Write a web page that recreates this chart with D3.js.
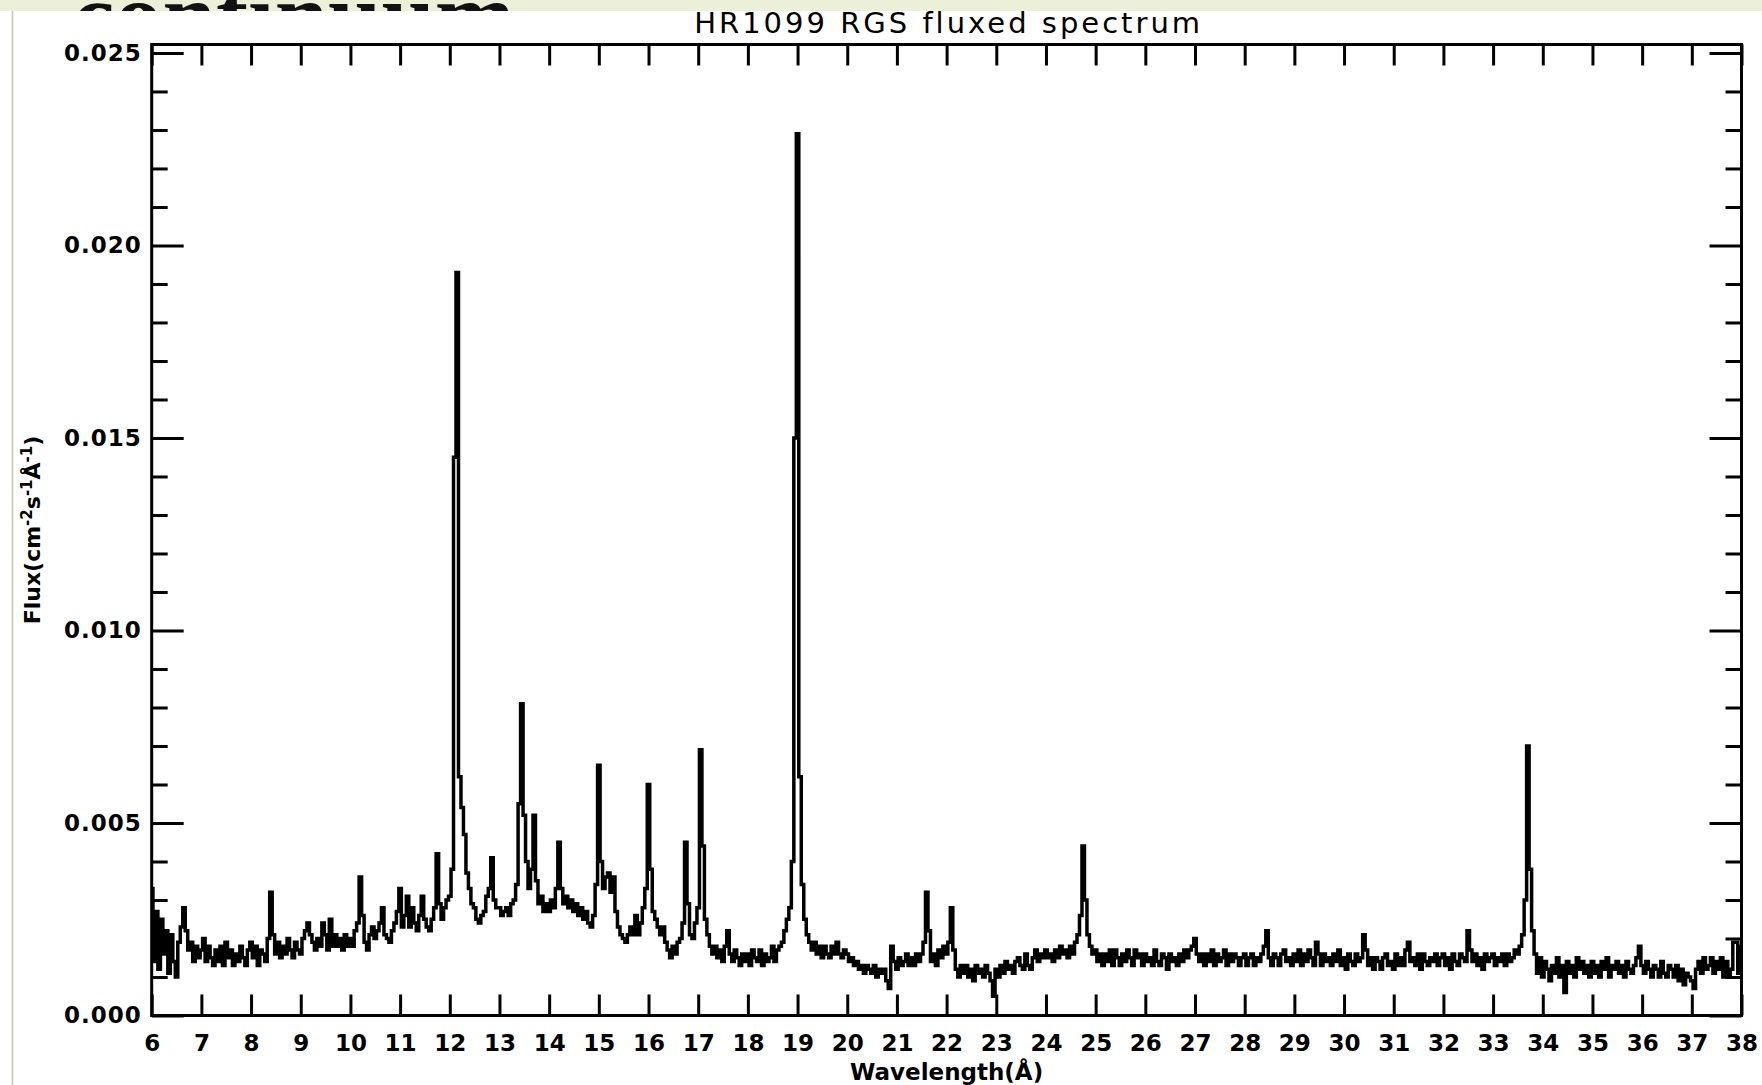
<!DOCTYPE html>
<html>
<head>
<meta charset="utf-8">
<script src="https://cdn.jsdelivr.net/npm/d3@7"></script>
<style>
html, body { margin: 0; padding: 0; background: #fff; }
svg { display: block; }
</style>
</head>
<body>
<svg id="chart" width="1762" height="1085"></svg>
<script>
// HR1099 RGS fluxed spectrum, binned on a regular wavelength grid.
const lambdaStart = 6.0;   // Å, centre of first bin
const lambdaStep = 0.05;   // Å per bin
const fluxUnit = 1e-4;     // stored flux values are in units of 1e-4 cm^-2 s^-1 Å^-1

// one row per Ångström (20 bins each), last entry is the 38.00 Å bin
const fluxValues = [
  33,14,27,12,25,16,22,11,21,14,10,19,23,28,22,17,19,14,18,15,   // 6
  17,20,14,18,15,13,17,14,18,13,19,15,17,13,16,14,18,15,13,17,   // 7
  19,15,18,13,17,16,14,20,32,21,16,19,15,18,16,20,17,15,19,17,   // 8
  16,20,22,24,21,19,17,20,18,24,21,17,25,18,21,18,20,17,21,18,   // 9
  20,18,22,24,36,26,19,17,21,23,20,22,24,28,21,20,19,22,24,27,   // 10
  33,23,26,31,23,28,24,22,26,31,25,23,22,25,28,42,29,25,28,30,   // 11
  31,38,145,193,62,54,47,37,33,29,28,25,24,26,27,31,33,41,30,28, // 12
  28,26,27,28,26,29,30,34,55,81,52,40,33,38,52,35,29,31,27,29,   // 13
  27,30,28,33,45,33,29,31,28,30,27,29,26,28,25,27,24,23,26,34,   // 14
  65,40,33,36,37,32,36,27,23,21,20,19,21,23,21,26,21,24,28,33,   // 15
  60,38,27,25,23,21,23,19,17,15,18,16,19,20,24,45,29,21,20,24,   // 16
  28,69,44,25,21,18,16,18,15,17,14,18,22,16,14,17,15,13,16,14,   // 17
  16,13,17,15,14,17,13,16,14,15,18,14,17,18,19,22,25,28,40,150,  // 18
  229,62,34,25,21,19,17,19,16,18,15,18,16,15,18,16,19,16,15,17,  // 19
  16,14,15,13,14,12,13,11,13,12,11,13,10,12,11,12,9,7,18,14,     // 20
  12,15,13,14,16,13,15,13,16,14,16,19,32,22,14,16,13,17,15,18,   // 21
  16,19,28,17,12,10,13,11,13,10,12,9,13,11,12,10,13,11,9,5,      // 22
  12,10,13,11,14,12,13,11,14,15,13,12,16,13,12,15,17,14,16,15,   // 23
  17,15,16,14,17,15,18,16,17,15,18,16,19,21,26,44,30,21,18,16,   // 24
  17,14,16,13,16,14,17,13,17,15,13,16,14,17,15,13,17,15,16,13,   // 25
  16,14,15,13,17,14,13,16,15,12,16,14,15,13,16,14,17,15,17,18,   // 26
  20,16,14,16,13,16,14,17,13,16,14,15,17,13,16,14,16,15,13,15,   // 27
  16,13,15,16,13,15,14,16,18,22,15,13,16,15,13,16,17,14,15,13,   // 28
  16,14,17,13,16,14,17,15,13,19,16,13,16,14,15,13,16,14,17,13,   // 29
  15,12,16,14,13,16,14,15,21,17,13,15,12,15,14,12,15,16,13,14,   // 30
  12,16,13,15,13,17,19,14,15,13,16,12,16,14,13,15,14,16,13,15,   // 31
  16,13,15,12,16,14,13,16,15,14,22,17,14,16,13,15,12,16,14,15,   // 32
  16,13,15,14,16,13,16,14,15,17,16,18,21,30,70,38,22,16,11,15,   // 33
  10,14,12,9,13,11,15,10,13,6,14,11,13,10,15,12,14,11,13,10,     // 34
  14,11,13,10,14,12,15,10,13,12,14,11,13,10,14,12,11,13,15,18,   // 35
  13,11,14,12,10,13,12,10,14,11,10,13,12,10,13,9,12,8,11,10,     // 36
  9,7,12,14,11,15,12,13,15,11,14,12,15,10,14,10,12,19,19,11,     // 37
  18                                                              // 38
];

const xTicks = [6,7,8,9,10,11,12,13,14,15,16,17,18,19,20,21,22,23,24,25,26,27,28,29,30,31,32,33,34,35,36,37,38];
const yTicks = [0, 0.005, 0.010, 0.015, 0.020, 0.025];
const yMinorTicks = [0.001,0.002,0.003,0.004,0.006,0.007,0.008,0.009,0.011,0.012,0.013,0.014,
                     0.016,0.017,0.018,0.019,0.021,0.022,0.023,0.024];
const titleText = "HR1099 RGS fluxed spectrum";
const xTitle = "Wavelength(Å)";

const W = 1762, H = 1085;
const frame = { left: 151.7, right: 1741.5, top: 44.5, bottom: 1015.5 };
const tickFont = "DejaVu Sans, Verdana, sans-serif";

const svg = d3.select("#chart");

// slide header strip with the heading cut off by the figure panel
svg.append("rect").attr("x", 0).attr("y", 0).attr("width", W).attr("height", H).attr("fill", "#fff");
svg.append("rect").attr("x", 0).attr("y", 0).attr("width", W).attr("height", 11).attr("fill", "#edf0d8");
svg.append("clipPath").attr("id", "stripClip")
  .append("rect").attr("x", 0).attr("y", 0).attr("width", W).attr("height", 11);
svg.append("text")
  .attr("clip-path", "url(#stripClip)")
  .attr("x", 72).attr("y", 48)
  .attr("font-family", "Liberation Serif, serif")
  .attr("font-weight", "bold")
  .attr("font-size", 96)
  .attr("fill", "#111")
  .text("continuum");
svg.append("line")
  .attr("x1", 12.5).attr("x2", 12.5).attr("y1", 11).attr("y2", H)
  .attr("stroke", "#c4c4b2").attr("stroke-width", 1.5);

// scales
const x = d3.scaleLinear().domain([6, 38]).range([frame.left, frame.right]);
const y = d3.scaleLinear().domain([0, 0.02522]).range([frame.bottom, frame.top]);

function styleAxis(g) {
  g.select(".domain").remove();
  g.selectAll(".tick line").attr("stroke", "#000").attr("stroke-width", 3);
  g.selectAll(".tick text")
    .attr("fill", "#000")
    .attr("font-family", tickFont)
    .attr("font-weight", "bold")
    .attr("font-size", 23);
}

// bottom axis with labels, ticks pointing into the plot
svg.append("g")
  .attr("transform", `translate(0,${frame.bottom})`)
  .call(d3.axisBottom(x).tickValues(xTicks).tickFormat(d3.format("d"))
        .tickSizeInner(-21).tickSizeOuter(0).tickPadding(19))
  .call(styleAxis);

// top axis, ticks only
svg.append("g")
  .attr("transform", `translate(0,${frame.top})`)
  .call(d3.axisTop(x).tickValues(xTicks).tickFormat("")
        .tickSizeInner(-21).tickSizeOuter(0))
  .call(styleAxis);

// left axis: labelled major ticks and minor ticks
svg.append("g")
  .attr("transform", `translate(${frame.left},0)`)
  .call(d3.axisLeft(y).tickValues(yTicks).tickFormat(d3.format(".3f"))
        .tickSizeInner(-32).tickSizeOuter(0).tickPadding(10))
  .call(styleAxis)
  .call(g => g.selectAll(".tick text").attr("letter-spacing", 1));
svg.append("g")
  .attr("transform", `translate(${frame.left},0)`)
  .call(d3.axisLeft(y).tickValues(yMinorTicks).tickFormat("")
        .tickSizeInner(-16).tickSizeOuter(0))
  .call(styleAxis);

// right axis mirrors the left one without labels
svg.append("g")
  .attr("transform", `translate(${frame.right},0)`)
  .call(d3.axisRight(y).tickValues(yTicks).tickFormat("")
        .tickSizeInner(-32).tickSizeOuter(0))
  .call(styleAxis);
svg.append("g")
  .attr("transform", `translate(${frame.right},0)`)
  .call(d3.axisRight(y).tickValues(yMinorTicks).tickFormat("")
        .tickSizeInner(-16).tickSizeOuter(0))
  .call(styleAxis);

// spectrum drawn as a histogram
const spectrum = fluxValues.map((v, i) => ({ lambda: lambdaStart + i * lambdaStep, flux: v * fluxUnit }));
svg.append("clipPath").attr("id", "plotClip")
  .append("rect")
  .attr("x", frame.left).attr("y", frame.top)
  .attr("width", frame.right - frame.left).attr("height", frame.bottom - frame.top);
svg.append("path")
  .datum(spectrum)
  .attr("clip-path", "url(#plotClip)")
  .attr("fill", "none")
  .attr("stroke", "#000")
  .attr("stroke-width", 3.5)
  .attr("stroke-linejoin", "miter")
  .attr("d", d3.line().x(d => x(d.lambda)).y(d => y(d.flux)).curve(d3.curveStep));

// plot frame
svg.append("rect")
  .attr("x", frame.left).attr("y", frame.top)
  .attr("width", frame.right - frame.left).attr("height", frame.bottom - frame.top)
  .attr("fill", "none").attr("stroke", "#000").attr("stroke-width", 3);

// title
svg.append("text")
  .attr("x", (frame.left + frame.right) / 2 + 2).attr("y", 33)
  .attr("text-anchor", "middle")
  .attr("font-family", tickFont)
  .attr("font-size", 29)
  .attr("letter-spacing", 3)
  .attr("fill", "#000")
  .text(titleText);

// x axis title
svg.append("text")
  .attr("x", (frame.left + frame.right) / 2).attr("y", 1080)
  .attr("text-anchor", "middle")
  .attr("font-family", tickFont)
  .attr("font-weight", "bold")
  .attr("font-size", 23)
  .attr("fill", "#000")
  .text(xTitle);

// y axis title with superscript exponents
const yTitle = svg.append("text")
  .attr("transform", "translate(40,530) rotate(-90)")
  .attr("text-anchor", "middle")
  .attr("font-family", tickFont)
  .attr("font-weight", "bold")
  .attr("font-size", 22)
  .attr("fill", "#000");
const yTitleParts = [
  { t: "Flux(cm", sup: false }, { t: "-2", sup: true },
  { t: "s", sup: false }, { t: "-1", sup: true },
  { t: "Å", sup: false }, { t: "-1", sup: true },
  { t: ")", sup: false }
];
yTitleParts.forEach(p => {
  yTitle.append("tspan")
    .attr("font-size", p.sup ? 15 : 22)
    .attr("baseline-shift", p.sup ? "55%" : "0%")
    .text(p.t);
});
</script>
</body>
</html>
